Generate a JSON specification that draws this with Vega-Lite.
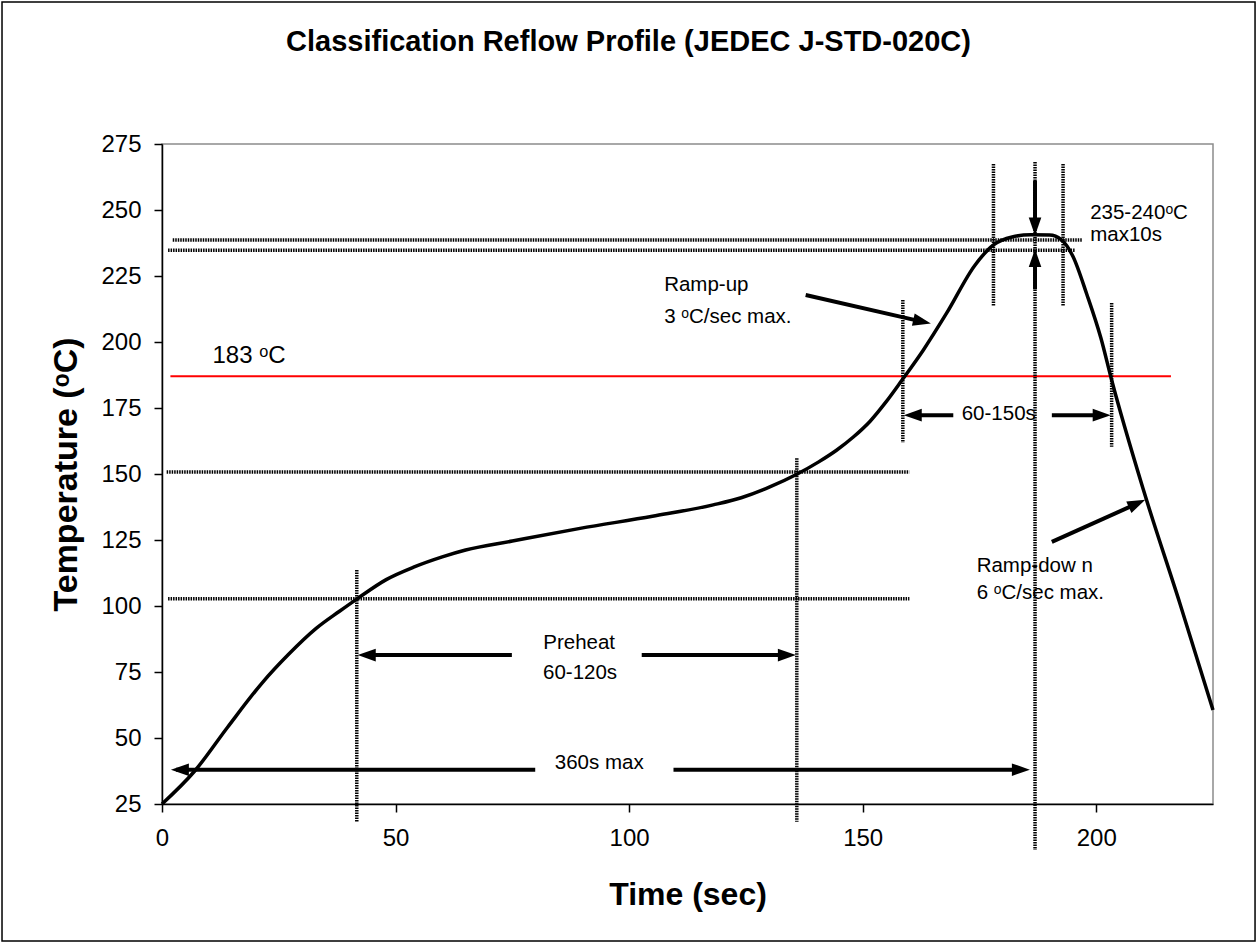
{
  "$schema": "https://vega.github.io/schema/vega-lite/v6.json",
  "width": 1051,
  "height": 660,
  "autosize": {"type": "none"},
  "padding": {"left": 162, "top": 144, "right": 44, "bottom": 139},
  "background": "white",
  "title": {
    "text": "Classification Reflow Profile (JEDEC J-STD-020C)",
    "font": "Liberation Sans",
    "fontSize": 29,
    "fontWeight": "bold",
    "color": "black",
    "anchor": "middle",
    "frame": "group",
    "dx": -59,
    "offset": -56
  },
  "config": {
    "view": {"stroke": "#8c8c8c", "strokeWidth": 1.5},
    "axis": {
      "grid": false,
      "domainColor": "black",
      "domainWidth": 1.5,
      "tickColor": "black",
      "tickWidth": 1.5,
      "tickSize": 8,
      "labelFont": "Liberation Sans",
      "labelFontSize": 24,
      "labelColor": "black",
      "labelFlush": false,
      "labelOverlap": false,
      "titleFont": "Liberation Sans",
      "titleFontWeight": "bold",
      "titleColor": "black"
    }
  },
  "datasets": {
    "curve": [
      {"x": 0, "y": 25}, {"x": 7, "y": 37.5}, {"x": 14, "y": 54}, {"x": 21.5, "y": 71},
      {"x": 27, "y": 81.5}, {"x": 33, "y": 91.5}, {"x": 38, "y": 98}, {"x": 42, "y": 103},
      {"x": 48, "y": 110}, {"x": 54, "y": 114.8}, {"x": 60, "y": 118.6}, {"x": 65, "y": 121.2},
      {"x": 75, "y": 124.6}, {"x": 89.5, "y": 129.4}, {"x": 105, "y": 134}, {"x": 118, "y": 138.3},
      {"x": 124, "y": 141}, {"x": 130, "y": 145}, {"x": 136, "y": 150}, {"x": 140.5, "y": 154.5},
      {"x": 144.4, "y": 159}, {"x": 148, "y": 164}, {"x": 151.6, "y": 170}, {"x": 155, "y": 177.3},
      {"x": 158.4, "y": 185.5}, {"x": 163, "y": 197}, {"x": 168, "y": 211}, {"x": 174, "y": 229},
      {"x": 178, "y": 236.8}, {"x": 182, "y": 239.8}, {"x": 186, "y": 240.6}, {"x": 190, "y": 240.5},
      {"x": 192.5, "y": 238.8}, {"x": 195, "y": 232.5}, {"x": 198, "y": 218}, {"x": 201, "y": 201.5},
      {"x": 203.3, "y": 185.6}, {"x": 210.1, "y": 144}, {"x": 218, "y": 100.5}, {"x": 225, "y": 60.6}
    ],
    "border": [{"x": -34.25, "x2": 234, "y": -26.9, "y2": 328.8}],
    "red": [{"x": 1.8, "x2": 216, "y": 187}],
    "hdots": [
      {"x": 2.3, "x2": 197, "y": 238.6},
      {"x": 1.3, "x2": 195.5, "y": 234.8},
      {"x": 1, "x2": 160, "y": 150.8},
      {"x": 1.3, "x2": 160, "y": 102.7}
    ],
    "vdots": [
      {"x": 41.7, "y": 113.6, "y2": 18.3},
      {"x": 135.9, "y": 156, "y2": 18.3},
      {"x": 158.6, "y": 215.9, "y2": 161.8},
      {"x": 203.3, "y": 214.8, "y2": 160.3},
      {"x": 178, "y": 267.4, "y2": 213.4},
      {"x": 192.9, "y": 267.4, "y2": 213.4},
      {"x": 186.9, "y": 268.2, "y2": 7.6}
    ],
    "shafts": [
      {"x": 79.9, "y": 38, "x2": 3, "y2": 38},
      {"x": 109.5, "y": 38, "x2": 184, "y2": 38},
      {"x": 74.9, "y": 81.4, "x2": 44, "y2": 81.4},
      {"x": 102.7, "y": 81.4, "x2": 134, "y2": 81.4},
      {"x": 169.4, "y": 172.3, "x2": 161, "y2": 172.3},
      {"x": 190.5, "y": 172.3, "x2": 201, "y2": 172.3},
      {"x": 186.9, "y": 261, "x2": 186.9, "y2": 244},
      {"x": 186.9, "y": 220, "x2": 186.9, "y2": 232},
      {"x": 137.8, "y": 217.8, "x2": 162, "y2": 208},
      {"x": 190.5, "y": 124.3, "x2": 208, "y2": 138.2}
    ],
    "heads": [
      {"x": 1.9, "y": 38, "dir": "left"},
      {"x": 185.8, "y": 38, "dir": "right"},
      {"x": 41.9, "y": 81.4, "dir": "left"},
      {"x": 135.7, "y": 81.4, "dir": "right"},
      {"x": 158.8, "y": 172.3, "dir": "left"},
      {"x": 203.1, "y": 172.3, "dir": "right"},
      {"x": 186.9, "y": 240.3, "dir": "down"},
      {"x": 186.9, "y": 235.2, "dir": "up"},
      {"x": 164.6, "y": 207, "dir": "rampup"},
      {"x": 210.5, "y": 140.2, "dir": "rampdown"}
    ],
    "centerText": [
      {"x": 89.3, "y": 86.1, "text": "Preheat"},
      {"x": 89.5, "y": 74.7, "text": "60-120s"},
      {"x": 93.6, "y": 40.6, "text": "360s max"}
    ],
    "leftText": [
      {"x": 107.5, "y": 221.6, "text": "Ramp-up"},
      {"x": 107.5, "y": 209.6, "text": "3 ᵒC/sec max."},
      {"x": 171.2, "y": 172.7, "text": "60-150s"},
      {"x": 174.4, "y": 115.3, "text": "Ramp-dow n"},
      {"x": 174.4, "y": 104.9, "text": "6 ᵒC/sec max."},
      {"x": 198.7, "y": 248.9, "text": "235-240ᵒC"},
      {"x": 198.7, "y": 240.5, "text": "max10s"}
    ],
    "bigText": [
      {"x": 10.8, "y": 194.7, "text": "183 ᵒC"}
    ]
  },
  "encoding": {
    "x": {
      "field": "x",
      "type": "quantitative",
      "scale": {"domain": [0, 225], "nice": false, "zero": false},
      "axis": {"title": "Time (sec)", "values": [0, 50, 100, 150, 200], "labelPadding": 14, "titlePadding": 29, "titleFontSize": 32}
    },
    "y": {
      "field": "y",
      "type": "quantitative",
      "scale": {"domain": [25, 275], "nice": false, "zero": false},
      "axis": {"title": "Temperature (ᵒC)", "values": [25, 50, 75, 100, 125, 150, 175, 200, 225, 250, 275], "labelPadding": 13, "titlePadding": 17, "titleFontSize": 34}
    }
  },
  "layer": [
    {
      "data": {"name": "border"},
      "mark": {"type": "rect", "fill": "transparent", "stroke": "black", "strokeWidth": 1.5, "clip": false},
      "encoding": {
        "x2": {"field": "x2"},
        "y2": {"field": "y2"}
      }
    },
    {
      "data": {"name": "red"},
      "mark": {"type": "rule", "color": "#ff0000", "strokeWidth": 2},
      "encoding": {"x2": {"field": "x2"}}
    },
    {
      "data": {"name": "hdots"},
      "mark": {"type": "rule", "color": "black", "strokeWidth": 3.5, "strokeDash": [1.5, 1]},
      "encoding": {"x2": {"field": "x2"}}
    },
    {
      "data": {"name": "vdots"},
      "mark": {"type": "rule", "color": "black", "strokeWidth": 3.5, "strokeDash": [1.5, 1]},
      "encoding": {"y2": {"field": "y2"}}
    },
    {
      "data": {"name": "curve"},
      "mark": {"type": "line", "color": "black", "strokeWidth": 3.5, "interpolate": "monotone"},
      "encoding": {}
    },
    {
      "data": {"name": "shafts"},
      "mark": {"type": "rule", "color": "black", "strokeWidth": 4},
      "encoding": {"x2": {"field": "x2"}, "y2": {"field": "y2"}}
    },
    {
      "data": {"name": "heads"},
      "transform": [{"filter": "datum.dir === 'right'"}],
      "mark": {"type": "point", "shape": "M0,0L-2,-0.7L-2,0.7Z", "size": 324, "filled": true, "color": "black", "opacity": 1, "angle": 0}
    },
    {
      "data": {"name": "heads"},
      "transform": [{"filter": "datum.dir === 'left'"}],
      "mark": {"type": "point", "shape": "M0,0L-2,-0.7L-2,0.7Z", "size": 324, "filled": true, "color": "black", "opacity": 1, "angle": 180}
    },
    {
      "data": {"name": "heads"},
      "transform": [{"filter": "datum.dir === 'down'"}],
      "mark": {"type": "point", "shape": "M0,0L-2,-0.7L-2,0.7Z", "size": 324, "filled": true, "color": "black", "opacity": 1, "angle": 90}
    },
    {
      "data": {"name": "heads"},
      "transform": [{"filter": "datum.dir === 'up'"}],
      "mark": {"type": "point", "shape": "M0,0L-2,-0.7L-2,0.7Z", "size": 324, "filled": true, "color": "black", "opacity": 1, "angle": 270}
    },
    {
      "data": {"name": "heads"},
      "transform": [{"filter": "datum.dir === 'rampup'"}],
      "mark": {"type": "point", "shape": "M0,0L-2,-0.7L-2,0.7Z", "size": 324, "filled": true, "color": "black", "opacity": 1, "angle": 12.8}
    },
    {
      "data": {"name": "heads"},
      "transform": [{"filter": "datum.dir === 'rampdown'"}],
      "mark": {"type": "point", "shape": "M0,0L-2,-0.7L-2,0.7Z", "size": 324, "filled": true, "color": "black", "opacity": 1, "angle": 335.8}
    },
    {
      "data": {"name": "centerText"},
      "mark": {"type": "text", "font": "Liberation Sans", "fontSize": 20.5, "color": "black", "align": "center", "baseline": "middle"},
      "encoding": {"text": {"field": "text"}}
    },
    {
      "data": {"name": "leftText"},
      "mark": {"type": "text", "font": "Liberation Sans", "fontSize": 20.5, "color": "black", "align": "left", "baseline": "middle"},
      "encoding": {"text": {"field": "text"}}
    },
    {
      "data": {"name": "bigText"},
      "mark": {"type": "text", "font": "Liberation Sans", "fontSize": 24, "color": "black", "align": "left", "baseline": "middle"},
      "encoding": {"text": {"field": "text"}}
    }
  ]
}
